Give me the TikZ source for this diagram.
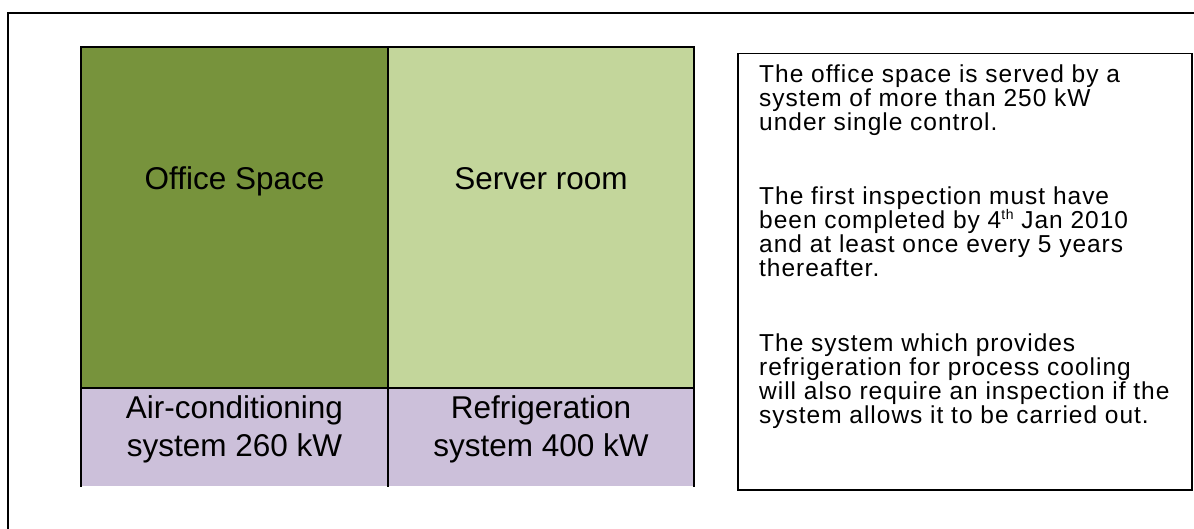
\documentclass[tikz,border=0pt]{standalone}
\usepackage{fontspec}
\setmainfont{Liberation Sans}
\newfontfamily\notefont[LetterSpace=4]{Liberation Sans}
\definecolor{darkolive}{HTML}{77933C}
\definecolor{lightolive}{HTML}{C3D69B}
\definecolor{lilac}{HTML}{CCC0DA}
\newcommand{\supth}[1]{\raisebox{9.5pt}{\fontsize{14}{14}\selectfont #1}}
\tikzset{
  cell/.style={draw=none, inner sep=0pt, outer sep=0pt, anchor=north west},
  border/.style={line width=2pt, line cap=rect},
  bigtxt/.style={inner sep=0pt, anchor=base, font=\fontsize{31.5}{38}\selectfont},
  notetxt/.style={inner sep=0pt, anchor=base west, font=\notefont\fontsize{24.5}{24}\selectfont},
  notebox/.style={draw, line width=1.5pt, inner sep=0pt, anchor=north west},
  frame/.style={line width=2pt}
}
\begin{document}
\begin{tikzpicture}[x=1pt,y=-1pt]
\useasboundingbox (0,0) rectangle (1194,529);
% outer frame (partly cut by the picture edge)
\coordinate (fbl) at (7.5,529);
\coordinate (ftl) at (7.5,13);
\coordinate (ftr) at (1194,13);
\draw[frame] (fbl) -- (ftl) -- (ftr);
% table cells
\node[cell, fill=darkolive, minimum width=307pt, minimum height=341pt] (office) at (81,47) {};
\node[cell, fill=lightolive, minimum width=306pt, minimum height=341pt] (server) at (388,47) {};
\node[cell, fill=lilac, minimum width=307pt, minimum height=98pt] (aircon) at (81,388) {};
\node[cell, fill=lilac, minimum width=306pt, minimum height=98pt] (refrig) at (388,388) {};
\draw[border] (aircon.south west) -- (office.north west) -- (server.north east) -- (refrig.south east);
\draw[border] (office.north east) -- (aircon.south east);
\draw[border] (aircon.north west) -- (refrig.north east);
% cell texts
\node[bigtxt] (officetxt) at (234.5,190) {Office Space};
\node[bigtxt] (servertxt) at (541,190) {Server room};
\node[bigtxt] (aircontxt1) at (234.5,418) {Air-conditioning};
\node[bigtxt] (aircontxt2) at (234.5,456) {system 260 kW};
\node[bigtxt] (refrigtxt1) at (541,418) {Refrigeration};
\node[bigtxt] (refrigtxt2) at (541,456) {system 400 kW};
% note box
\node[notebox, minimum width=454pt, minimum height=436pt] (note) at (737,53) {};
\foreach \t/\yy [count=\i] in {
  {The office space is served by a}/83,
  {system of more than 250 kW}/107,
  {under single control.}/131,
  {The first inspection must have}/205,
  {been completed by 4\supth{th} Jan 2010}/229,
  {and at least once every 5 years}/253,
  {thereafter.}/277,
  {The system which provides}/351,
  {refrigeration for process cooling}/375,
  {will also require an inspection if the}/399,
  {system allows it to be carried out.}/423}
  \node[notetxt] (line\i) at (759,\yy) {\t};
\end{tikzpicture}
\end{document}
